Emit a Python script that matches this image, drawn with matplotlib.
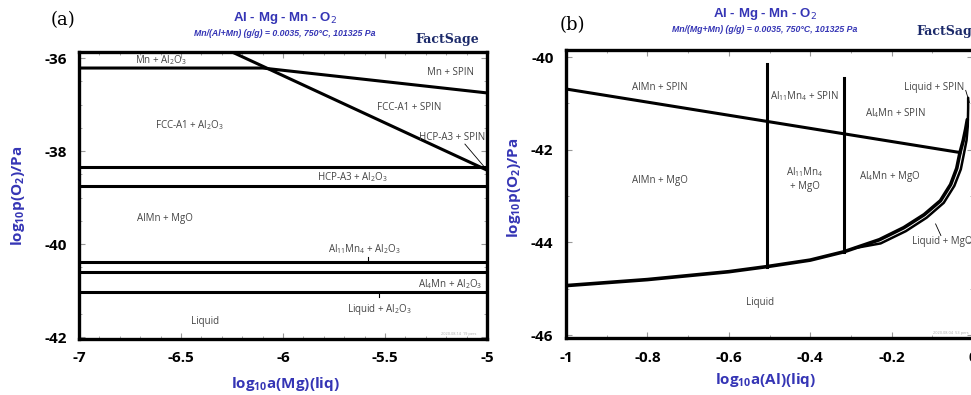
import matplotlib.pyplot as plt
import numpy as np
from matplotlib.ticker import MultipleLocator

BLUE = '#3535b5'
LBL = '#444444'
LW = 2.2

# ---------- panel (a) data ----------
a_top_x = [-7, -6.10, -5]
a_top_y = [-36.215, -36.215, -36.75]
a_diag_x = [-6.25, -5]
a_diag_y = [-35.87, -38.41]
a_hlines = [-38.35, -38.76, -40.39, -40.60, -41.03]

a_labels = [
    ('Mn + Al$_2$O$_3$', -6.6, -36.05),
    ('Mn + SPIN', -5.18, -36.32),
    ('FCC-A1 + SPIN', -5.38, -37.07),
    ('FCC-A1 + Al$_2$O$_3$', -6.46, -37.44),
    ('HCP-A3 + SPIN', -5.17, -37.7),
    ('HCP-A3 + Al$_2$O$_3$', -5.66, -38.56),
    ('AlMn + MgO', -6.58, -39.46),
    ('Al$_{11}$Mn$_4$ + Al$_2$O$_3$', -5.6, -40.1),
    ('Al$_4$Mn + Al$_2$O$_3$', -5.18, -40.86),
    ('Liquid + Al$_2$O$_3$', -5.53, -41.4),
    ('Liquid', -6.38, -41.66),
]

# ---------- panel (b) data ----------
b_slope_x = [-1, -0.032]
b_slope_y = [-40.69, -42.06]
b_vert_x = [-0.506, -0.317]
b_vert_top = [-40.15, -40.45]
b_vert_bot = [-44.52, -44.20]

b_liq_x = [-1, -0.8, -0.6, -0.506, -0.4, -0.317, -0.23, -0.17, -0.12, -0.08,
           -0.055, -0.04, -0.032, -0.024, -0.018, -0.014]
b_liq_y = [-44.93, -44.80, -44.63, -44.52, -44.38, -44.20, -43.94, -43.68,
           -43.40, -43.10, -42.75, -42.40, -42.06, -41.80, -41.55, -41.35]
b_mgo_x = [-0.29, -0.227, -0.165, -0.114, -0.072, -0.046, -0.030, -0.022,
           -0.016, -0.013, -0.012, -0.012]
b_mgo_y = [-44.12, -44.02, -43.755, -43.465, -43.145, -42.78, -42.42,
           -42.07, -41.80, -41.50, -41.10, -40.88]

b_labels = [
    ('AlMn + SPIN', -0.77, -40.66),
    ('Al$_{11}$Mn$_4$ + SPIN', -0.413, -40.84),
    ('Liquid + SPIN', -0.095, -40.66),
    ('Al$_4$Mn + SPIN', -0.19, -41.2),
    ('AlMn + MgO', -0.77, -42.66),
    ('Al$_{11}$Mn$_4$\n+ MgO', -0.413, -42.62),
    ('Al$_4$Mn + MgO', -0.204, -42.57),
    ('Liquid + MgO', -0.075, -43.98),
    ('Liquid', -0.523, -45.3),
]

plt.rcParams['font.family'] = ['Open Sans', 'DejaVu Sans']
plt.rcParams['mathtext.fontset'] = 'custom'
plt.rcParams['mathtext.rm'] = 'Open Sans'
plt.rcParams['mathtext.bf'] = 'Open Sans:bold'

fig = plt.figure(figsize=(9.71, 3.95), dpi=100)
axa = fig.add_axes([0.0814, 0.1418, 0.4201, 0.7266])
axb = fig.add_axes([0.5829, 0.1443, 0.4192, 0.7290])


def style(ax):
    for s in ax.spines.values():
        s.set_linewidth(2.4)
    ax.tick_params(which='both', direction='in', color='#999999',
                   top=True, right=True, labelsize=11, pad=9)
    ax.tick_params(which='major', length=4, width=0.8)
    ax.tick_params(which='minor', length=2.5, width=0.6)
    for t in ax.get_xticklabels() + ax.get_yticklabels():
        t.set_fontweight('bold')


# panel (a)
axa.plot(a_top_x, a_top_y, color='k', lw=LW)
axa.plot(a_diag_x, a_diag_y, color='k', lw=LW)
for y in a_hlines:
    axa.plot([-7, -5], [y, y], color='k', lw=LW)
axa.plot([-5.583, -5.583], [-40.28, -40.39], color='k', lw=0.8)
axa.plot([-5.53, -5.53], [-41.03, -41.13], color='k', lw=0.8)
axa.plot([-5.108, -5.015], [-37.85, -38.33], color='k', lw=0.6)
for txt, x, y in a_labels:
    axa.text(x, y, txt, fontsize=7, color=LBL, ha='center', va='center')
axa.text(-5.05, -41.98, '2020.08.14  19 pers', fontsize=2.8, color='#aaaaaa',
         ha='right', va='bottom')
axa.set_xlim(-7, -5)
axa.set_ylim(-42.04, -35.87)
axa.set_xticks([-7, -6.5, -6, -5.5, -5])
axa.set_xticklabels(['-7', '-6.5', '-6', '-5.5', '-5'])
axa.set_yticks([-42, -40, -38, -36])
axa.set_yticklabels(['-42', '-40', '-38', '-36'])
axa.xaxis.set_minor_locator(MultipleLocator(0.1))
axa.yaxis.set_minor_locator(MultipleLocator(0.5))
style(axa)
axa.set_xlabel('log$_{\\mathbf{10}}$a(Mg)(liq)', color=BLUE, fontsize=11,
               fontweight='bold')
axa.xaxis.set_label_coords(0.505, -0.125)
axa.set_ylabel('log$_{\\mathbf{10}}$p(O$_{\\mathbf{2}}$)/Pa', color=BLUE,
               fontsize=11, fontweight='bold')
axa.yaxis.set_label_coords(-0.128, 0.5)

# panel (b)
axb.plot(b_slope_x, b_slope_y, color='k', lw=LW)
for x, y0, y1 in zip(b_vert_x, b_vert_top, b_vert_bot):
    axb.plot([x, x], [y0, y1], color='k', lw=LW)
axb.plot(b_liq_x, b_liq_y, color='k', lw=LW + 0.4, solid_capstyle='round')
axb.plot(b_mgo_x, b_mgo_y, color='k', lw=1.8, solid_capstyle='round')
axb.plot([-0.018, -0.009], [-40.72, -40.98], color='k', lw=0.6)
axb.plot([-0.092, -0.079], [-43.6, -43.85], color='k', lw=0.6)
for txt, x, y in b_labels:
    axb.text(x, y, txt, fontsize=7, color=LBL, ha='center', va='center',
             linespacing=1.3)
axb.text(-0.01, -46.0, '2020.08.04  53 pers', fontsize=2.8, color='#aaaaaa',
         ha='right', va='bottom')
axb.set_xlim(-1, 0)
axb.set_ylim(-46.06, -39.85)
axb.set_xticks([-1, -0.8, -0.6, -0.4, -0.2, 0])
axb.set_xticklabels(['-1', '-0.8', '-0.6', '-0.4', '-0.2', '0'])
axb.set_yticks([-46, -44, -42, -40])
axb.set_yticklabels(['-46', '-44', '-42', '-40'])
axb.xaxis.set_minor_locator(MultipleLocator(0.1))
axb.yaxis.set_minor_locator(MultipleLocator(1))
style(axb)
axb.set_xlabel('log$_{\\mathbf{10}}$a(Al)(liq)', color=BLUE, fontsize=11,
               fontweight='bold')
axb.xaxis.set_label_coords(0.489, -0.115)
axb.set_ylabel('log$_{\\mathbf{10}}$p(O$_{\\mathbf{2}}$)/Pa', color=BLUE,
               fontsize=11, fontweight='bold')
axb.yaxis.set_label_coords(-0.105, 0.52)

# headers
W, H = 971.0, 395.0
heads = [
    (63, 20, '(a)', 285, 18, 33, 'Mn/(Al+Mn) (g/g) = 0.0035, 750°C, 101325 Pa', 447, 40),
    (572, 25, '(b)', 765, 14, 29, 'Mn/(Mg+Mn) (g/g) = 0.0035, 750°C, 101325 Pa', 948, 32),
]
for px, py, tag, tx, ty, sy, sub, lx, ly in heads:
    fig.text(px / W, 1 - py / H, tag, fontsize=13, family='DejaVu Serif',
             ha='center', va='center')
    fig.text(tx / W, 1 - ty / H, 'Al - Mg - Mn - O$_2$', fontsize=9.5,
             color=BLUE, fontweight='bold', family='Liberation Sans',
             ha='center', va='center', math_fontfamily='dejavusans')
    fig.text(tx / W, 1 - sy / H, sub, fontsize=6.3, color=BLUE,
             fontweight='bold', style='italic', family='Liberation Sans',
             ha='center', va='center')
    fig.text(lx / W, 1 - ly / H, 'FactSage', fontsize=9, color='#1c2a6a',
             fontweight='bold', family='DejaVu Serif', ha='center', va='center')

fig.savefig('out.png', dpi=100)
